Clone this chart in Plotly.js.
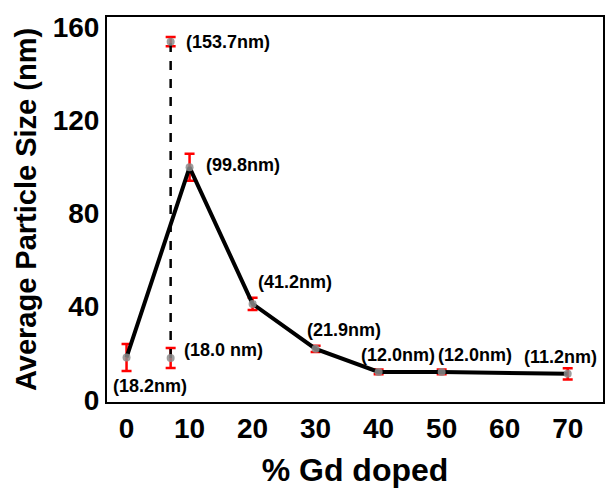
<!DOCTYPE html>
<html>
<head>
<meta charset="utf-8">
<script src="https://cdn.plot.ly/plotly-3.0.1.min.js"></script>
<style>html,body{margin:0;padding:0;background:#fff;}#chart{width:605px;height:488px;}</style>
</head>
<body>
<div id="chart"></div>
<script>
// Main series
const dopedPct = [0, 10, 20, 30, 40, 50, 70];
const sizeNm   = [18.2, 99.8, 41.2, 21.9, 12.0, 12.0, 11.2];
const sizeErr  = [5.8, 5.8, 2.6, 1.3, 1.0, 1.0, 2.4];
const mainLabels = ["(18.2nm)", "(99.8nm)", "(41.2nm)", "(21.9nm)", "(12.0nm)", "(12.0nm)", "(11.2nm)"];

// Dashed (bimodal) series
const splitPct = [7, 7];
const splitNm  = [18.0, 153.7];
const splitErr = [4.3, 2.0];
const splitLabels = ["(18.0 nm)", "(153.7nm)"];

const xTicks = [0, 10, 20, 30, 40, 50, 60, 70];
const yTicks = [0, 40, 80, 120, 160];

// label placement (styling only)
const mainOffsets = [
  {xs: 23, ys: -29, xa: "center"},
  {xs: 14, ys: 2, xa: "left"},
  {xs: 3, ys: 22, xa: "left"},
  {xs: -11, ys: 19, xa: "left"},
  {xs: 19, ys: 17, xa: "center"},
  {xs: 33, ys: 17, xa: "center"},
  {xs: -7, ys: 17, xa: "center"}
];
const splitOffsets = [
  {xs: 11, ys: 8, xa: "left"},
  {xs: 13, ys: 0, xa: "left"}
];

const font = "Liberation Sans, Arial, sans-serif";

const traces = [
  {
    x: splitPct, y: splitNm, type: "scatter", mode: "lines+markers",
    line: {color: "black", width: 2.5, dash: "dash"},
    marker: {color: "rgba(140,140,140,0.85)", size: 8},
    error_y: {type: "data", array: splitErr, visible: true, color: "#ff0000", thickness: 2.5, width: 5},
    hoverinfo: "none"
  },
  {
    x: dopedPct, y: sizeNm, type: "scatter", mode: "lines+markers",
    line: {color: "black", width: 4},
    marker: {color: "rgba(140,140,140,0.85)", size: 8},
    error_y: {type: "data", array: sizeErr, visible: true, color: "#ff0000", thickness: 2.5, width: 5},
    hoverinfo: "none"
  }
];

const annotations = [];
dopedPct.forEach((x, i) => {
  annotations.push({
    x: x, y: sizeNm[i], xref: "x", yref: "y", text: "<b>" + mainLabels[i] + "</b>",
    showarrow: false, xanchor: mainOffsets[i].xa, yanchor: "middle",
    xshift: mainOffsets[i].xs, yshift: mainOffsets[i].ys,
    font: {family: font, size: 18, color: "black"}
  });
});
splitPct.forEach((x, i) => {
  annotations.push({
    x: x, y: splitNm[i], xref: "x", yref: "y", text: "<b>" + splitLabels[i] + "</b>",
    showarrow: false, xanchor: splitOffsets[i].xa, yanchor: "middle",
    xshift: splitOffsets[i].xs, yshift: splitOffsets[i].ys,
    font: {family: font, size: 18, color: "black"}
  });
});

const layout = {
  width: 605, height: 488,
  margin: {l: 107, r: 2, t: 17, b: 86},
  paper_bgcolor: "white", plot_bgcolor: "white",
  showlegend: false,
  font: {family: font, color: "black"},
  xaxis: {
    range: [-3.1, 75.6], tickvals: xTicks, ticktext: xTicks.map(v => "<b>" + v + "</b>"),
    showgrid: false, zeroline: false, showline: true, mirror: true,
    linecolor: "black", linewidth: 2, ticks: "",
    tickfont: {family: font, size: 28, color: "black"},
    title: {text: "<b>% Gd doped</b>", font: {family: font, size: 32, color: "black"}, standoff: 20}
  },
  yaxis: {
    range: [-0.9, 164.3], tickvals: yTicks, ticktext: yTicks.map(v => "<b>" + v + "</b>"),
    showgrid: false, zeroline: false, showline: true, mirror: true,
    linecolor: "black", linewidth: 2, ticks: "",
    tickfont: {family: font, size: 28, color: "black"},
    title: {text: "<b>Average Particle Size (nm)</b>", font: {family: font, size: 29, color: "black"}, standoff: 8}
  },
  annotations: annotations
};

Plotly.newPlot("chart", traces, layout, {displayModeBar: false, staticPlot: true});
</script>
</body>
</html>
